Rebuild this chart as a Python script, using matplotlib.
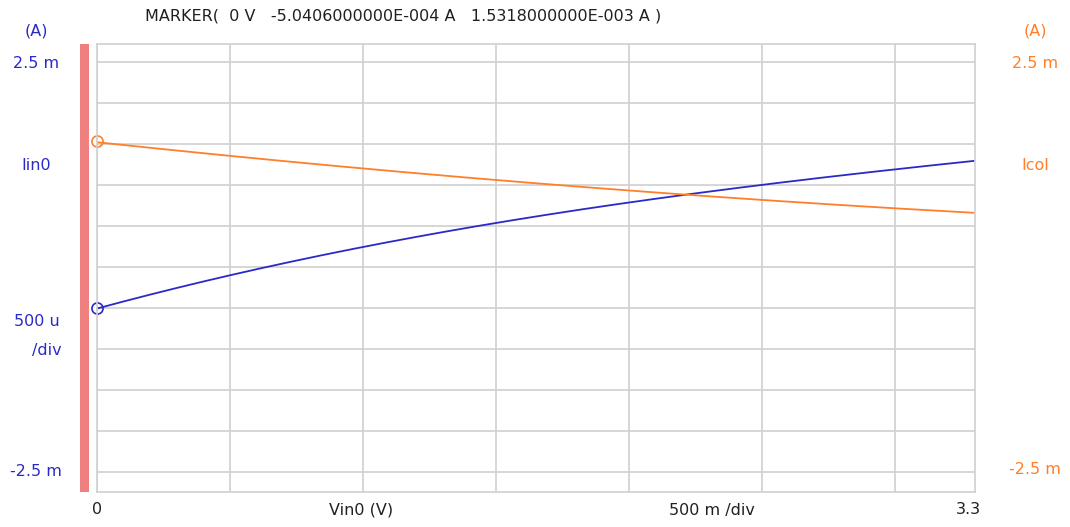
import numpy as np
import matplotlib
matplotlib.use("Agg")
import matplotlib.pyplot as plt
from matplotlib.patches import Rectangle

# sweep of Vin0 (V) and the two currents (mA)
vin = [0.0, 0.5, 1.0, 1.5, 2.0, 2.5, 3.0, 3.3]
iin0 = [-0.50406, -0.106, 0.248, 0.533, 0.796, 1.000, 1.183, 1.301]
icol = [1.5318, 1.345, 1.195, 1.061, 0.939, 0.826, 0.716, 0.655]

x_ticks = [0.0, 0.5, 1.0, 1.5, 2.0, 2.5, 3.0]
y_ticks = [-2.5, -2.0, -1.5, -1.0, -0.5, 0.0, 0.5, 1.0, 1.5, 2.0, 2.5]

marker_text = "MARKER(  0 V   -5.0406000000E-004 A   1.5318000000E-003 A )"

BLUE = "#2a2ac8"
ORANGE = "#ff7f2a"
GRID = "#d0d0d0"
FS = 11.5

plt.rcParams["font.family"] = ["DejaVu Sans"]

fig = plt.figure(figsize=(10.7, 5.27), dpi=100)
W, H = 1070, 527
ax = fig.add_axes([97 / W, 1 - 492 / H, 878 / W, 448 / H])

ax.set_xlim(0, 3.3)
ax.set_ylim(-2.744, 2.72)
ax.set_xticks(x_ticks)
ax.set_yticks(y_ticks)
ax.grid(True, color=GRID, linewidth=1.2)
ax.tick_params(length=0, labelleft=False, labelbottom=False)
for s in ax.spines.values():
    s.set_color(GRID)
    s.set_linewidth(1.2)

# smooth curve through the sampled points
xs = np.linspace(0, 3.3, 200)
blue_fit = np.polyfit(vin, iin0, 3)
orange_fit = np.polyfit(vin, icol, 2)
ax.plot(xs, np.polyval(blue_fit, xs), color=BLUE, lw=1.3)
ax.plot(xs, np.polyval(orange_fit, xs), color=ORANGE, lw=1.3)
ax.plot(vin[0], iin0[0], "o", mfc="none", mec=BLUE, ms=8, mew=1.2, clip_on=False)
ax.plot(vin[0], icol[0], "o", mfc="none", mec=ORANGE, ms=8, mew=1.2, clip_on=False)

# cursor bar at the left edge
fig.patches.append(Rectangle((80 / W, 1 - 492 / H), 9 / W, 448 / H,
                             transform=fig.transFigure, color="#f08080", lw=0))


def txt(x, y, s, color, ha="center"):
    fig.text(x / W, 1 - y / H, s, color=color, fontsize=FS, ha=ha, va="center")


txt(145, 16, marker_text, "#202020", ha="left")

# left (Iin0) axis labels
txt(36, 31, "(A)", BLUE)
txt(36, 64, "2.5 m", BLUE)
txt(36, 165, "Iin0", BLUE)
txt(37, 321, "500 u", BLUE)
txt(47, 350, "/div", BLUE)
txt(36, 472, "-2.5 m", BLUE)

# right (Icol) axis labels
txt(1035, 31, "(A)", ORANGE)
txt(1035, 64, "2.5 m", ORANGE)
txt(1035, 165, "Icol", ORANGE)
txt(1035, 469, "-2.5 m", ORANGE)

# x axis labels
txt(97, 510, "0", "#202020")
txt(361, 510, "Vin0 (V)", "#202020")
txt(712, 510, "500 m /div", "#202020")
txt(968, 510, "3.3", "#202020")

fig.savefig("out.png", dpi=100)
